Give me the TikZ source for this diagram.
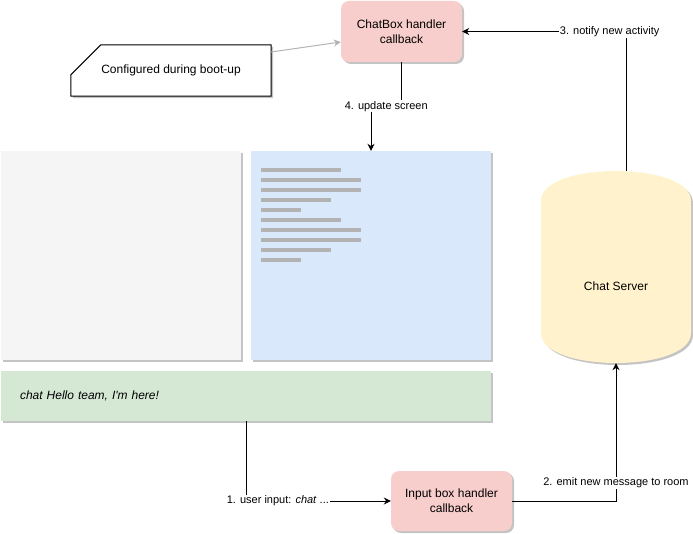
\documentclass[tikz,border=0pt]{standalone}
\usepackage{fontspec}
\setmainfont{Liberation Sans}
\usepackage{tikz}
\usetikzlibrary{positioning}
\usetikzlibrary{arrows.meta}
\usetikzlibrary{shadows}
\usetikzlibrary{backgrounds}
\usepackage{xcolor}
\definecolor{cbred}{HTML}{F8CECC}
\definecolor{cbblue}{HTML}{DAE8FC}
\definecolor{cbgreen}{HTML}{D5E8D4}
\definecolor{cbyellow}{HTML}{FFF2CC}
\definecolor{cbgrey}{HTML}{F5F5F5}
\definecolor{cbline}{HTML}{B3B3B3}
\definecolor{cbshade}{HTML}{C4C4C4}
\tikzset{
	dropshade/.style={drop shadow={shadow xshift=2pt, shadow yshift=-2pt, fill=cbshade, opacity=1}},
	handler/.style={dropshade, fill=cbred, rounded corners=8pt, minimum width=121pt, minimum height=61pt, align=center, font=\fontsize{12}{15}\selectfont},
	panel/.style={dropshade, inner sep=0pt},
	flow/.style={black, line width=1pt, -{Stealth[length=7pt, width=7pt]}},
	elabel/.style={fill=white, inner sep=1pt, font=\fontsize{11}{13}\selectfont}
}

\begin{document}
\begin{tikzpicture}[x=1pt, y=-1pt]
	\useasboundingbox (0,0) rectangle (693,534);
	\node[handler] (chatbox) at (401.5,31.5) {ChatBox handler\\callback};
	\node[handler, minimum height=60pt] (inputcb) at (451.5,501) {Input box handler\\callback};
	\node[panel, fill=cbgrey, minimum width=240pt, minimum height=209pt] (screenL) at (121,255.5) {};
	\node[panel, fill=cbblue, minimum width=240pt, minimum height=209pt] (screenR) at (371,255.5) {};
	\node[panel, fill=cbgreen, minimum width=490pt, minimum height=50pt, text width=452pt, inner xsep=19pt, align=left, font=\fontsize{12}{14}\selectfont\itshape] (inputbar) at (246,396) {chat Hello team, I\textquotesingle m here!};
	\foreach \len [count=\i from 0] in {80,100,100,70,40,80,100,100,70,40}
		\draw[cbline, line width=4pt] (261,{170+10*\i}) -- ++(\len,0);
	\fill[cbyellow, dropshade] (541,201) .. controls (541,161) and (691,161) .. (691,201) -- (691,333) .. controls (691,373) and (541,373) .. (541,333) -- cycle;
	\node[minimum width=150pt, minimum height=192pt, label={[yshift=-19pt, font=\fontsize{12}{14}\selectfont]center:Chat Server}] (server) at (616,267) {};
	\node[minimum width=200pt, minimum height=51pt, font=\fontsize{12}{14}\selectfont] (bootcfg) at (171,70.5) {Configured during boot-up};
	\begin{scope}[on background layer]
		\draw[black, line width=1pt, fill=white, dropshade] ([xshift=30pt]bootcfg.north west) -- (bootcfg.north east) -- (bootcfg.south east) -- (bootcfg.south west) -- ([yshift=-30pt]bootcfg.north west) -- cycle;
	\end{scope}
	\draw[cbline, line width=1pt, -{Stealth[length=7pt, width=7pt]}] ([yshift=18.5pt]bootcfg.east) -- ([yshift=-10.5pt]chatbox.west);
	\draw[flow] (chatbox.south) -- ++(0,44) -| node[elabel, pos=0.25] {4. update screen} (screenR.north);
	\draw[flow] ([xshift=10pt]server.north) |- node[elabel, pos=0.55] {3. notify new activity} (chatbox.east);
	\draw[flow] (inputbar.south) |- node[elabel, pos=0.61] {1. user input: \textit{chat} ...} (inputcb.west);
	\draw[flow] (inputcb.east) -| node[elabel, pos=0.565] {2. emit new message to room} (server.south);
\end{tikzpicture}
\end{document}
